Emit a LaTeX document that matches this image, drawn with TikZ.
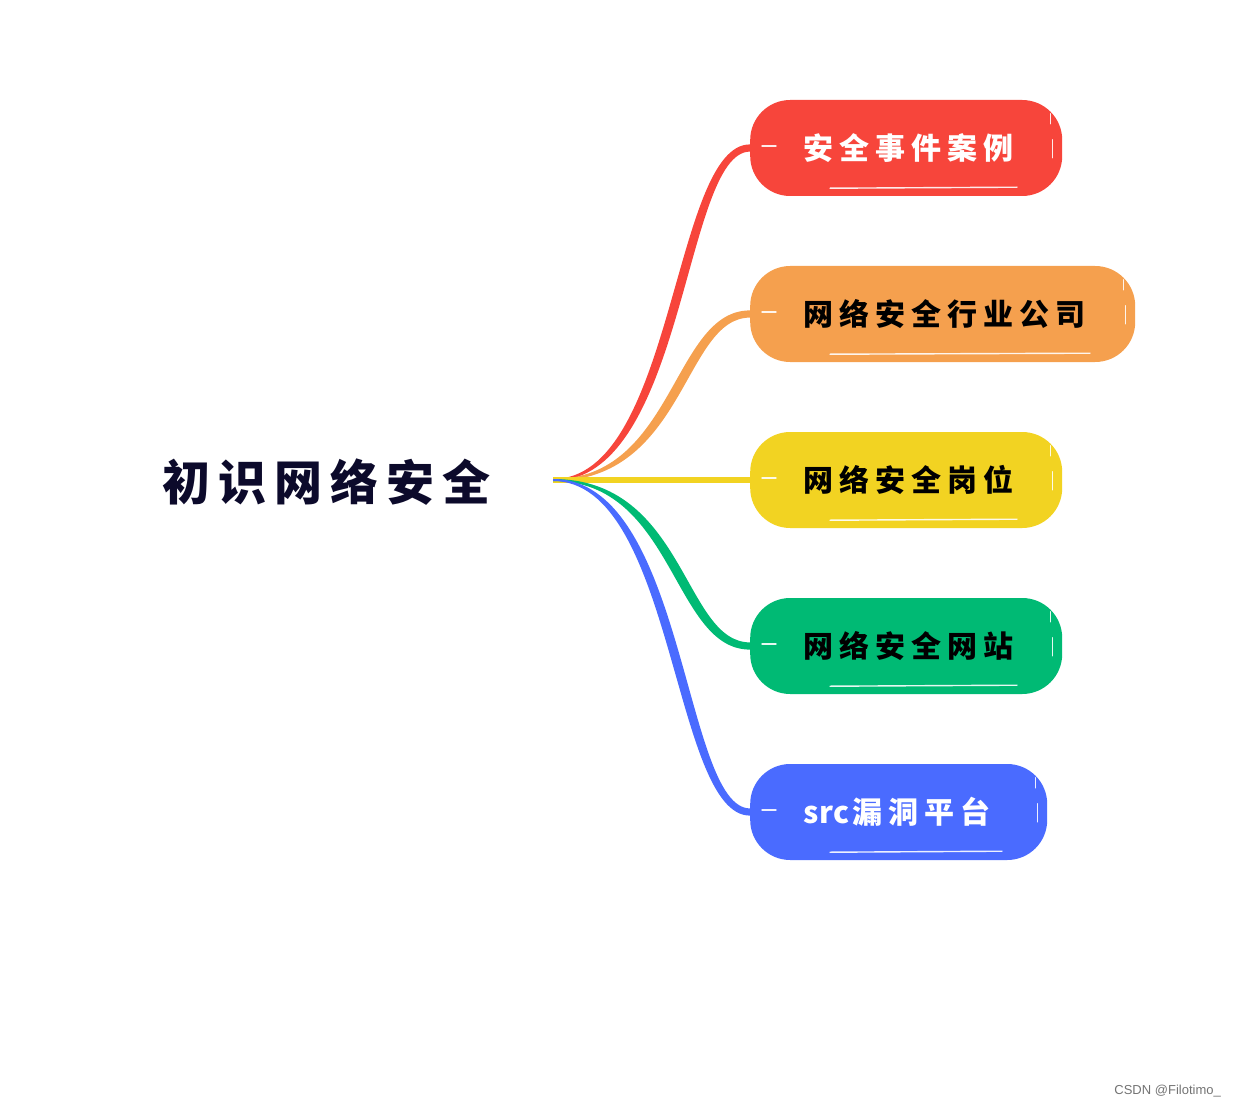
\documentclass[tikz,border=0pt]{standalone}
\usepackage{fontspec}
\setmainfont{Noto Sans CJK SC}
\newfontfamily\cjk[LetterSpace=20]{Noto Sans CJK SC}
\newfontfamily\cjkroot[LetterSpace=17]{Noto Sans CJK SC}
\newfontfamily\wmfont{Liberation Sans}
\definecolor{cred}{HTML}{F7453B}
\definecolor{corange}{HTML}{F5A04E}
\definecolor{cyellow}{HTML}{F2D322}
\definecolor{cgreen}{HTML}{00BA74}
\definecolor{cblue}{HTML}{4A6BFF}
\definecolor{croot}{HTML}{0C0A2B}
\tikzset{
  pill/.style={fill=#1, rounded corners=40pt, minimum height=96pt, inner sep=0pt, anchor=west},
  lbl/.style={anchor=west, inner sep=0pt, font=\cjk\bfseries\fontsize{30}{36}\selectfont},
  sketch/.style={draw=white, line width=1.4pt, line cap=round, opacity=0.9},
}
% tapered connector: #1 target node, #2 colour, #3 sign (+1 down, -1 up)
\newcommand\taperconn[3]{%
  \fill[#2] ([yshift=1pt]hub) .. controls +({127+#3*5.5},0) and +({-72+#3*5.5},0) .. ([yshift=3.6pt]#1.west)
    -- ([yshift=-3.6pt]#1.west) .. controls +({-72-#3*5.5},0) and +({127-#3*5.5},0) .. ([yshift=-1pt]hub) -- cycle;}
\begin{document}
\begin{tikzpicture}[x=1pt,y=1pt]
\useasboundingbox (0,0) rectangle (1236,-1107);
% root
\node[anchor=west, inner sep=0pt, text=croot, font=\cjkroot\bfseries\fontsize{48}{56}\selectfont] (root) at (162,-482) {初识网络安全};
\coordinate (hub) at (553,-480);
% pills
\node[pill=cred, minimum width=312pt] (n1) at (750,-148) {};
\node[pill=corange, minimum width=385pt] (n2) at (750,-314) {};
\node[pill=cyellow, minimum width=312pt] (n3) at (750,-480) {};
\node[pill=cgreen, minimum width=312pt] (n4) at (750,-646) {};
\node[pill=cblue, minimum width=297pt] (n5) at (750,-812) {};
% connectors
\taperconn{n1}{cred}{-1}
\taperconn{n2}{corange}{-1}
\draw[cyellow, line width=6pt] (hub) -- (n3.west);
\taperconn{n4}{cgreen}{1}
\taperconn{n5}{cblue}{1}
% sketch strokes
\foreach \n/\w in {n1/312,n2/385,n3/312,n4/312,n5/297}{
  \draw[sketch] ([xshift=12pt,yshift=2pt]\n.west) -- ++(14,0);
  \draw[sketch] ([xshift=80pt,yshift=8pt]\n.south west) -- ++(\w-125,1);
  \draw[sketch] ([xshift=-12pt,yshift=-14pt]\n.north east) -- ++(0,-10);
  \draw[sketch] ([xshift=-10pt,yshift=-40pt]\n.north east) -- ++(0,-18);
}
% labels
\node[lbl, text=white] (t1) at (803,-148) {安全事件案例};
\node[lbl, text=black] (t2) at (803,-314) {网络安全行业公司};
\node[lbl, text=black] (t3) at (803,-480) {网络安全岗位};
\node[lbl, text=black] (t4) at (803,-646) {网络安全网站};
\node[lbl, text=white] (t5) at (803,-812) {{\addfontfeature{LetterSpace=2}src}\kern3pt 漏洞平台};
% watermark
\node[anchor=east, inner sep=0pt, text=black!55, font=\wmfont\fontsize{13}{15}\selectfont] (wm) at (1221,-1091) {CSDN @Filotimo\_};
\end{tikzpicture}
\end{document}
